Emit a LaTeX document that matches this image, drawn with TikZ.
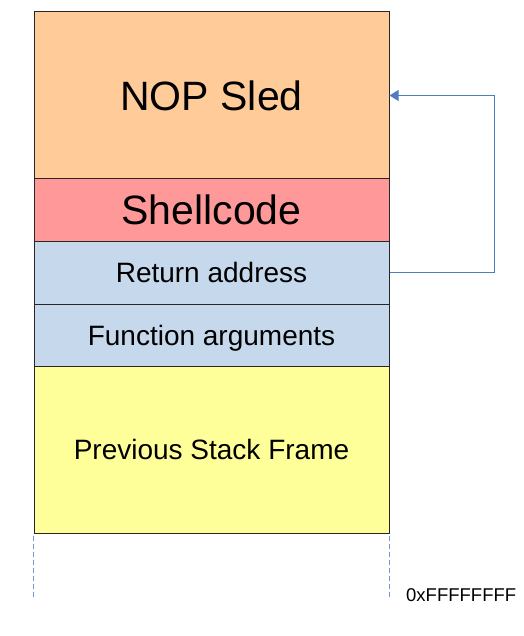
\documentclass[tikz,border=0pt]{standalone}
\usepackage{fontspec}
\setmainfont{Liberation Sans}
\usetikzlibrary{arrows.meta}
\definecolor{nopcol}{HTML}{FFCC99}
\definecolor{shellcol}{HTML}{FF9999}
\definecolor{framecol}{HTML}{C6D9EC}
\definecolor{prevcol}{HTML}{FFFF99}
\definecolor{jumpcol}{HTML}{4F7DC0}
\definecolor{guidecol}{HTML}{7196D2}
\begin{document}
\begin{tikzpicture}[x=1pt, y=-1pt,
        block/.style={draw=black!85, line width=1pt, minimum width=355pt, inner sep=0pt, text depth=0pt},
        jump/.style={draw=jumpcol, line width=1pt, -{Triangle[length=9pt, width=11pt]}},
        guide/.style={draw=guidecol, line width=1pt, dash pattern=on 5pt off 3pt}]
        \useasboundingbox (0, 0) rectangle (523, 636);
        \foreach \name/\ytop/\h/\col/\fs/\txt in {nop/12/167/nopcol/41/NOP Sled,
                shell/179/62/shellcol/41/Shellcode, ret/241/63/framecol/28/Return address,
                args/304/62/framecol/28/Function arguments, prev/366/167/prevcol/28/Previous Stack Frame}
            \node[block, fill=\col, minimum height=\h, text height=0.716*\fs,
                font=\fontsize{\fs}{\fs}\selectfont] (\name) at (211.5, \ytop + \h/2) {\txt};
        \draw[jump] (ret.east) -- ++(105, 0) |- (nop.east);
        \draw[guide] (prev.south west) ++(0, 2) -- ++(0, 62);
        \draw[guide] (prev.south east) ++(0, 2) -- ++(0, 62);
        \node[anchor=west, inner sep=0pt, text height=13.2pt, text depth=0pt,
            font=\fontsize{18.5}{18.5}\selectfont] (top) at (406, 595) {0xFFFFFFFF};
    \end{tikzpicture}
\end{document}
